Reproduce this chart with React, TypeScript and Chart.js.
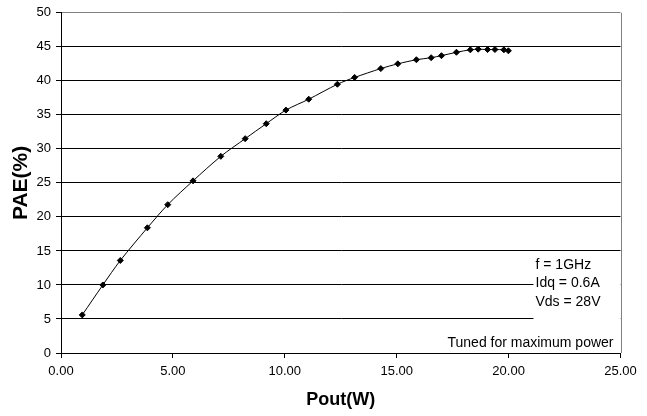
import React, { useEffect, useRef } from 'react';
import { Chart, registerables } from 'chart.js';

Chart.register(...registerables);

const poutW = [0.95, 1.87, 2.65, 3.86, 4.77, 5.9, 7.14, 8.23, 9.17, 10.05, 11.07, 12.35, 13.12, 14.29, 15.05, 15.88, 16.54, 17.0, 17.67, 18.29, 18.64, 19.06, 19.39, 19.79, 19.99];
const paePct = [5.6, 10.0, 13.6, 18.4, 21.8, 25.3, 28.9, 31.5, 33.7, 35.7, 37.3, 39.5, 40.5, 41.8, 42.5, 43.1, 43.4, 43.7, 44.2, 44.56, 44.65, 44.6, 44.6, 44.56, 44.42];

const xTickValues = [0, 5, 10, 15, 20, 25];
const yTickValues = [0, 5, 10, 15, 20, 25, 30, 35, 40, 45, 50];

const conditionLines = ['f = 1GHz', 'Idq = 0.6A', 'Vds = 28V'];
const tuningNote = 'Tuned for maximum power';

const FONT = '"Liberation Sans", Arial, sans-serif';

const annotationPlugin = {
  id: 'annotations',
  afterDraw(chart: any) {
    const { ctx, chartArea } = chart;
    const { right, top, bottom } = chartArea;
    ctx.save();
    // white box behind condition text
    ctx.fillStyle = '#ffffff';
    ctx.fillRect(right - 87, top + 242, 87, 78);
    // right border of plot area
    ctx.strokeStyle = '#808080';
    ctx.lineWidth = 1;
    ctx.beginPath();
    ctx.moveTo(Math.round(right) + 0.5, top);
    ctx.lineTo(Math.round(right) + 0.5, bottom);
    ctx.stroke();
    // texts
    ctx.fillStyle = '#000';
    ctx.font = `14px ${FONT}`;
    ctx.textBaseline = 'middle';
    ctx.textAlign = 'left';
    conditionLines.forEach((t, i) => {
      ctx.fillText(t, right - 85, top + 252 + i * 18.5);
    });
    ctx.textAlign = 'right';
    ctx.fillText(tuningNote, right - 7, top + 330);
    ctx.restore();
  },
};

export default function App() {
  const canvasRef = useRef<HTMLCanvasElement | null>(null);

  useEffect(() => {
    if (!canvasRef.current) return;
    const chart = new Chart(canvasRef.current, {
      type: 'scatter',
      data: {
        datasets: [
          {
            data: poutW.map((x, i) => ({ x, y: paePct[i] })),
            showLine: true,
            borderColor: '#000',
            borderWidth: 1,
            tension: 0.3,
            pointStyle: 'rectRot',
            pointRadius: 3,
            pointBackgroundColor: '#000',
            pointBorderColor: '#000',
            pointBorderWidth: 1,
          },
        ],
      },
      options: {
        responsive: false,
        animation: false,
        events: [],
        layout: { padding: { top: 9.5, right: 26.5, left: 0, bottom: 0 } },
        plugins: {
          legend: { display: false },
          tooltip: { enabled: false },
        },
        scales: {
          x: {
            type: 'linear',
            min: 0,
            max: 25,
            afterFit(scale: any) {
              scale.height = 63;
            },
            afterBuildTicks(scale: any) {
              scale.ticks = xTickValues.map((v) => ({ value: v }));
            },
            ticks: {
              color: '#000',
              font: { family: FONT, size: 13 },
              padding: 6,
              maxRotation: 0,
              callback: (v: any) => Number(v).toFixed(2),
            },
            grid: {
              drawOnChartArea: false,
              drawTicks: true,
              tickLength: 5,
              tickColor: '#000',
              color: '#000',
            },
            border: { color: '#000', width: 1 },
            title: {
              display: true,
              text: 'Pout(W)',
              color: '#000',
              font: { family: FONT, size: 18, weight: 'bold' },
              padding: { top: 0, bottom: 5 },
            },
          },
          y: {
            type: 'linear',
            min: 0,
            max: 50,
            afterFit(scale: any) {
              scale.width = 61;
            },
            afterBuildTicks(scale: any) {
              scale.ticks = yTickValues.map((v) => ({ value: v }));
            },
            ticks: {
              color: '#000',
              font: { family: FONT, size: 13 },
              padding: 5,
            },
            grid: {
              drawTicks: true,
              tickLength: 5,
              tickColor: '#000',
              color: (c: any) => (c.tick && c.tick.value === 50 ? '#808080' : '#000'),
            },
            border: { color: '#000', width: 1 },
            title: {
              display: true,
              text: 'PAE(%)',
              color: '#000',
              font: { family: FONT, size: 21, weight: 'bold' },
              padding: { top: 9, bottom: 0 },
            },
          },
        },
      },
      plugins: [annotationPlugin],
    } as any);
    return () => chart.destroy();
  }, []);

  return (
    <div style={{ position: 'absolute', left: 0, top: 0, width: 647, height: 416, background: '#fff' }}>
      <canvas ref={canvasRef} width={647} height={416} style={{ display: 'block' }} />
    </div>
  );
}
